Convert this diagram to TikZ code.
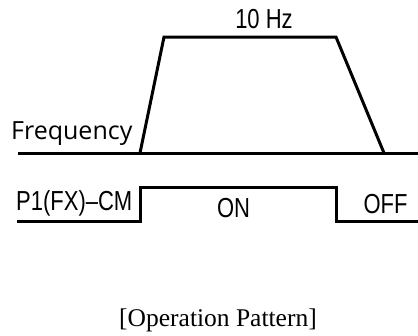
\documentclass[tikz,border=0pt]{standalone}
\usepackage{fontspec}
\setmainfont{Liberation Serif}
\newfontfamily\condfont[FakeStretch=0.8]{Liberation Sans}
\newfontfamily\freqfont{Open Sans}
\begin{document}
\begin{tikzpicture}[x=1pt,y=-1pt,
  wave/.style={line width=3pt,line join=miter,line cap=butt},
  cond/.style={font=\condfont\fontsize{27.5}{32}\selectfont,inner sep=0pt},
  lbl/.style={font=\freqfont\fontsize{25}{29}\selectfont,inner sep=0pt},
  captiontext/.style={font=\fontsize{25.5}{30}\selectfont,inner sep=0pt}]
\useasboundingbox (0,0) rectangle (418,335);
% frequency trace
\coordinate (f0) at (18,153);
\coordinate (f1) at (140,153);
\coordinate (f2) at (164,37);
\coordinate (f3) at (336,37);
\coordinate (f4) at (384,153);
\coordinate (f5) at (418,153);
\draw[wave] (f0) -- (f5);
\draw[wave] (f1) -- (f2) -- (f3) -- (f4);
\node[cond,anchor=base] (hz) at (264,28) {10 Hz};
\node[lbl,anchor=base west] (freq) at (11,139) {Frequency};
% P1 trace
\coordinate (p0) at (17,221);
\coordinate (p1) at (140,221);
\coordinate (p2) at (140,187);
\coordinate (p3) at (336,187);
\coordinate (p4) at (336,221);
\coordinate (p5) at (418,221);
\draw[wave] (p0) -- (p1) -- (p2) -- (p3) -- (p4) -- (p5);
\node[cond,anchor=base west] (p1lbl) at (16,210) {P1(FX)–CM};
\node[cond,anchor=base] (on) at (233.5,217) {ON};
\node[cond,anchor=base] (off) at (385.5,213) {OFF};
\node[captiontext] (caption) at (218,320) {[Operation Pattern]};
\end{tikzpicture}
\end{document}
